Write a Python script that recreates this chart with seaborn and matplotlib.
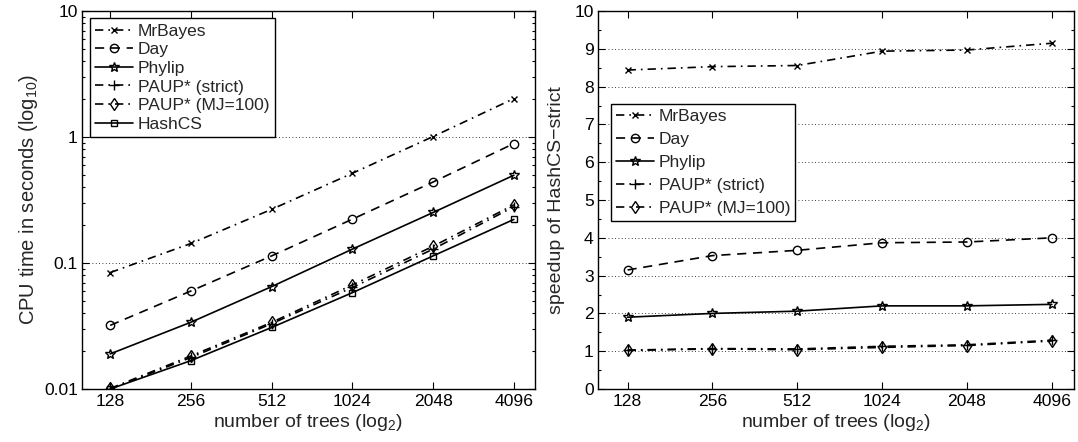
import numpy as np
import pandas as pd
import matplotlib
matplotlib.use("Agg")
import matplotlib.pyplot as plt
import matplotlib.ticker as mticker
import seaborn as sns

trees = [128, 256, 512, 1024, 2048, 4096]
tick_labels = ["128", "256", "512", "1024", "2048", "4096"]

# CPU time (seconds)
t_mrbayes = [0.084, 0.143, 0.267, 0.516, 1.01, 2.02]
t_day = [0.032, 0.060, 0.114, 0.223, 0.44, 0.888]
t_phylip = [0.019, 0.0339, 0.065, 0.129, 0.252, 0.498]
t_paup_strict = [0.0100, 0.0178, 0.0330, 0.064, 0.129, 0.280]
t_paup_mj = [0.0101, 0.0183, 0.0338, 0.067, 0.136, 0.290]
t_hashcs = [0.0100, 0.0168, 0.0308, 0.0582, 0.114, 0.222]

# speedup of HashCS-strict
s_mrbayes = [8.44, 8.53, 8.56, 8.94, 8.97, 9.15]
s_day = [3.15, 3.53, 3.67, 3.87, 3.89, 4.00]
s_phylip = [1.90, 2.00, 2.06, 2.20, 2.20, 2.24]
s_paup_strict = [1.03, 1.07, 1.06, 1.13, 1.17, 1.29]
s_paup_mj = [1.02, 1.06, 1.04, 1.10, 1.15, 1.27]

dashdot = (0, (5, 3, 1, 3))
styles = {
    "MrBayes": dict(linestyle=dashdot, marker="x", ms=4.5),
    "Day": dict(linestyle=(0, (5.5, 4)), marker="o", ms=6),
    "Phylip": dict(linestyle="-", marker="*", ms=7.5),
    "PAUP* (strict)": dict(linestyle=dashdot, marker="+", ms=6.5),
    "PAUP* (MJ=100)": dict(linestyle=dashdot, marker="d", ms=6.5),
    "HashCS": dict(linestyle="-", marker="s", ms=5),
}

sns.set_style("ticks")
plt.rcParams["font.family"] = ["Liberation Sans", "DejaVu Sans"]
plt.rcParams["mathtext.default"] = "regular"
plt.rcParams["font.size"] = 12

fig = plt.figure(figsize=(10.78, 4.42), dpi=100)
ax1 = fig.add_axes([0.0761, 0.1199, 0.4202, 0.855])
ax2 = fig.add_axes([0.5547, 0.1199, 0.4416, 0.855])

def draw(ax, series):
    for name, vals in series:
        st = styles[name]
        sns.lineplot(x=trees, y=vals, ax=ax, color="black", lw=1.2,
                     linestyle=st["linestyle"], marker=st["marker"],
                     markersize=st["ms"], markerfacecolor="none",
                     markeredgecolor="black", markeredgewidth=1.0,
                     label=name)

draw(ax1, [("MrBayes", t_mrbayes), ("Day", t_day), ("Phylip", t_phylip),
           ("PAUP* (strict)", t_paup_strict), ("PAUP* (MJ=100)", t_paup_mj),
           ("HashCS", t_hashcs)])
draw(ax2, [("MrBayes", s_mrbayes), ("Day", s_day), ("Phylip", s_phylip),
           ("PAUP* (strict)", s_paup_strict), ("PAUP* (MJ=100)", s_paup_mj)])

for ax in (ax1, ax2):
    ax.set_xscale("log", base=2)
    ax.set_xlim(100.5, 4910)
    ax.set_xticks(trees)
    ax.set_xticklabels(tick_labels)
    ax.xaxis.set_minor_locator(mticker.NullLocator())
    ax.tick_params(which="both", direction="in", top=True, right=True,
                   labelsize=12.6, colors="black", width=0.8)
    ax.tick_params(which="major", length=5)
    ax.tick_params(which="minor", length=2.5)
    ax.tick_params(axis="x", pad=3.5)
    ax.tick_params(axis="y", pad=3)
    for sp in ax.spines.values():
        sp.set_color("black")
        sp.set_linewidth(1.0)
    ax.set_xlabel("number of trees (log$_2$)", fontsize=14, labelpad=2.5)

ax1.set_yscale("log")
ax1.set_ylim(0.01, 10)
ax1.set_yticks([0.01, 0.1, 1, 10])
ax1.set_yticklabels(["0.01", "0.1", "1", "10"])
ax1.yaxis.set_minor_locator(mticker.LogLocator(base=10, subs=np.arange(2, 10)))
ax1.yaxis.set_minor_formatter(mticker.NullFormatter())
ax1.set_ylabel("CPU time in seconds (log$_{10}$)", fontsize=14.5, labelpad=3)
for v in [0.1, 1]:
    ax1.axhline(v, color="black", lw=0.6, linestyle=(0, (1, 3)), zorder=0)

ax2.set_ylim(0, 10)
ax2.set_yticks(range(0, 11))
ax2.yaxis.set_minor_locator(mticker.MultipleLocator(0.5))
ax2.set_ylabel("speedup of HashCS\u2212strict", fontsize=14, labelpad=7)
for v in range(1, 10):
    ax2.axhline(v, color="black", lw=0.6, linestyle=(0, (1, 3)), zorder=0)

leg_kw = dict(frameon=True, fancybox=False, edgecolor="black", framealpha=1,
              fontsize=12.5, handlelength=2.2, handletextpad=0.25,
              borderpad=0.3, borderaxespad=0)
l1 = ax1.legend(loc="upper left", bbox_to_anchor=(0.0177, 0.981),
                labelspacing=0.2, **leg_kw)
l2 = ax2.legend(loc="upper left", bbox_to_anchor=(0.027, 0.754),
                labelspacing=0.45, **leg_kw)
for l in (l1, l2):
    l.get_frame().set_linewidth(1.0)

fig.savefig("out.png", dpi=100)
